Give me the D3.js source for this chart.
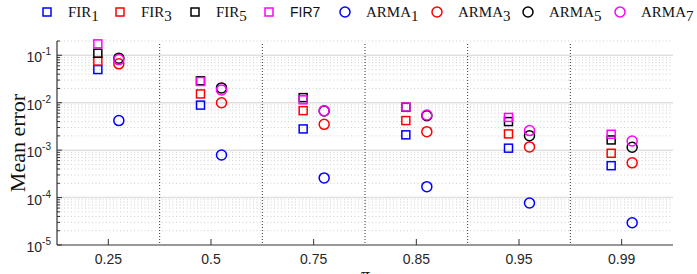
<!DOCTYPE html>
<html>
<head>
	<meta charset="utf-8">
	<style>
		body { margin: 0; background: #fff; }
		svg { display: block; }
		.tick-label { font-family: "Liberation Sans", Arial, sans-serif; font-size: 14px; fill: #262626; }
	</style>
</head>
<body>
	<script src="https://cdn.jsdelivr.net/npm/d3@7"></script>
	<script>
	// chart values
	var categories = ["0.25", "0.5", "0.75", "0.85", "0.95", "0.99"];
	var fir1 = [0.05, 0.0089, 0.0028, 0.0021, 0.0011, 0.00047];
	var fir3 = [0.075, 0.0153, 0.0068, 0.0042, 0.0022, 0.00086];
	var fir5 = [0.11, 0.029, 0.0128, 0.008, 0.004, 0.00164];
	var fir7 = [0.174, 0.028, 0.0115, 0.0081, 0.0049, 0.00216];
	var arma1 = [0.0042, 0.00079, 0.00026, 0.00017, 0.000077, 0.0000295];
	var arma3 = [0.066, 0.010, 0.0035, 0.00245, 0.00117, 0.00054];
	var arma5 = [0.087, 0.0205, 0.0067, 0.0053, 0.00202, 0.00115];
	var arma7 = [0.081, 0.0186, 0.0068, 0.0055, 0.00258, 0.00156];

	var series = [
		{name: "FIR", sub: "1", vals: fir1, color: "#0000ff", shape: "square"},
		{name: "FIR", sub: "3", vals: fir3, color: "#ff0000", shape: "square"},
		{name: "FIR", sub: "5", vals: fir5, color: "#000000", shape: "square"},
		{name: "FIR7", sub: null, vals: fir7, color: "#ff00ff", shape: "square"},
		{name: "ARMA", sub: "1", vals: arma1, color: "#0000ff", shape: "circle"},
		{name: "ARMA", sub: "3", vals: arma3, color: "#ff0000", shape: "circle"},
		{name: "ARMA", sub: "5", vals: arma5, color: "#000000", shape: "circle"},
		{name: "ARMA", sub: "7", vals: arma7, color: "#ff00ff", shape: "circle"}
	];

	var W = 697, H = 274;
	var plotL = 57, plotR = 673, plotT = 41, plotB = 245;

	var svg = d3.select("body").append("svg")
		.attr("width", W)
		.attr("height", H);

	var x = d3.scaleBand().domain(categories).range([plotL, plotR]).padding(0);
	var y = d3.scaleLog().domain([1e-5, 0.2]).range([plotB, plotT]);

	// grid: minor dotted, major solid
	var allTicks = [];
	for (var e = -5; e <= -1; e++) {
		for (var m = 1; m <= 9; m++) {
			var v = m * Math.pow(10, e);
			if (v <= 0.2) allTicks.push({v: v, major: m === 1});
		}
	}
	var grid = svg.append("g");
	grid.selectAll("line.minor").data(allTicks.filter(function(d){ return !d.major; })).enter()
		.append("line")
		.attr("x1", plotL).attr("x2", plotR)
		.attr("y1", function(d){ return y(d.v); })
		.attr("y2", function(d){ return y(d.v); })
		.attr("stroke", "#cfcfcf")
		.attr("stroke-width", 1)
		.attr("stroke-dasharray", "1,2.5");
	grid.selectAll("line.major").data(allTicks.filter(function(d){ return d.major && d.v > 1e-5; })).enter()
		.append("line")
		.attr("x1", plotL).attr("x2", plotR)
		.attr("y1", function(d){ return y(d.v); })
		.attr("y2", function(d){ return y(d.v); })
		.attr("stroke", "#e0e0e0")
		.attr("stroke-width", 1.5);

	// category separators
	svg.append("g").selectAll("line").data(categories.slice(1)).enter()
		.append("line")
		.attr("x1", function(d){ return x(d); })
		.attr("x2", function(d){ return x(d); })
		.attr("y1", 44).attr("y2", plotB)
		.attr("stroke", "#333")
		.attr("stroke-width", 1)
		.attr("stroke-dasharray", "1,2");

	// axes
	svg.append("line").attr("x1", plotL).attr("x2", plotL).attr("y1", plotT).attr("y2", plotB)
		.attr("stroke", "#333").attr("stroke-width", 1.2);
	svg.append("line").attr("x1", plotL).attr("x2", plotR).attr("y1", plotB).attr("y2", plotB)
		.attr("stroke", "#333").attr("stroke-width", 1.2);

	// y ticks (inward)
	svg.append("g").selectAll("line").data(allTicks).enter()
		.append("line")
		.attr("x1", plotL)
		.attr("x2", function(d){ return plotL + (d.major ? 5 : 3); })
		.attr("y1", function(d){ return y(d.v); })
		.attr("y2", function(d){ return y(d.v); })
		.attr("stroke", "#333").attr("stroke-width", 1);

	var ylab = svg.append("g").selectAll("text").data(allTicks.filter(function(d){ return d.major; })).enter()
		.append("text")
		.attr("class", "tick-label")
		.attr("text-anchor", "end")
		.attr("x", 51)
		.attr("y", function(d){ return y(d.v) + 7; });
	ylab.append("tspan").text("10");
	ylab.append("tspan")
		.attr("dy", -7)
		.attr("font-size", "10px")
		.text(function(d){ return "-" + Math.round(-Math.log10(d.v)); });

	// x ticks (inward) and labels
	var xc = function(c){ return x(c) + x.bandwidth() / 2; };
	svg.append("g").selectAll("line").data(categories).enter()
		.append("line")
		.attr("x1", xc).attr("x2", xc)
		.attr("y1", plotB).attr("y2", plotB - 6)
		.attr("stroke", "#333").attr("stroke-width", 1);
	svg.append("g").selectAll("text").data(categories).enter()
		.append("text")
		.attr("class", "tick-label")
		.attr("text-anchor", "middle")
		.attr("x", xc)
		.attr("y", 264)
		.text(function(d){ return d; });

	// axis titles
	svg.append("text")
		.attr("transform", "translate(25,143) rotate(-90)")
		.attr("text-anchor", "middle")
		.attr("font-family", "'Liberation Serif', 'Times New Roman', serif")
		.attr("font-size", "22px")
		.attr("fill", "#111")
		.text("Mean error");
	svg.append("text")
		.attr("x", 365).attr("y", 281)
		.attr("text-anchor", "middle")
		.attr("font-family", "'Liberation Serif', 'Times New Roman', serif")
		.attr("font-style", "italic")
		.attr("font-size", "18px")
		.attr("fill", "#111")
		.text("π");

	// markers
	function drawMarker(g, shape, color, cx, cy) {
		if (shape === "square") {
			g.append("rect")
				.attr("x", cx - 4).attr("y", cy - 4)
				.attr("width", 8).attr("height", 8)
				.attr("fill", "none").attr("stroke", color).attr("stroke-width", 1.5);
		} else {
			g.append("circle")
				.attr("cx", cx).attr("cy", cy).attr("r", 5)
				.attr("fill", "none").attr("stroke", color).attr("stroke-width", 1.5);
		}
	}

	var marks = svg.append("g");
	series.forEach(function(s){
		var off = s.shape === "square" ? -10.5 : 10.5;
		s.vals.forEach(function(v, i){
			drawMarker(marks, s.shape, s.color, xc(categories[i]) + off, y(v));
		});
	});

	// legend
	var legendX = [47, 120, 195, 269, 345, 437, 528, 620];
	var legend = svg.append("g");
	series.forEach(function(s, i){
		drawMarker(legend, s.shape, s.color, legendX[i], 12);
		var t = legend.append("text")
			.attr("x", legendX[i] + 21)
			.attr("y", 17)
			.attr("fill", "#111");
		if (s.sub) {
			t.attr("font-family", "'Liberation Serif', 'Times New Roman', serif").attr("font-size", "15px");
			t.append("tspan").text(s.name);
			t.append("tspan").attr("dy", 4).attr("font-size", "15px").text(s.sub);
		} else {
			t.attr("font-family", "'Liberation Sans', Arial, sans-serif").attr("font-size", "14px");
			t.text(s.name);
		}
	});
	</script>
</body>
</html>
